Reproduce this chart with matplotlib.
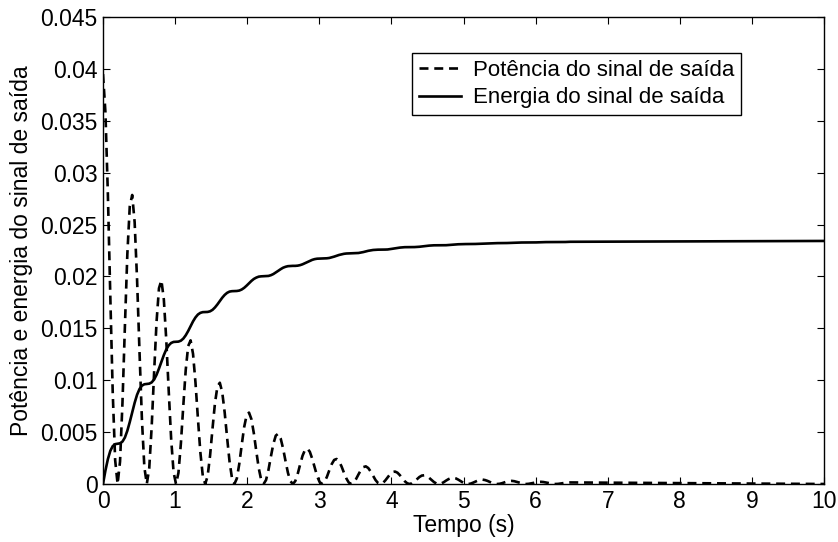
import numpy as np
import matplotlib
matplotlib.use("Agg")
import matplotlib.pyplot as plt

plt.rcParams['font.family'] = ['Liberation Sans', 'DejaVu Sans']

# sampling step of the read-off curves (s); last point is at t = 10 s
t_step = 0.03375
t_end = 10.0

# Power of the output signal (12 samples per oscillation)
potencia = [
    0.03950, 0.03580, 0.02795, 0.01810, 0.00879, 0.00229, 0.0, 0.00216, 0.00782, 0.01520, 0.02214, 0.02675,
    0.02785, 0.02524, 0.01970, 0.01276, 0.00620, 0.00161, 0.0, 0.00152, 0.00551, 0.01072, 0.01561, 0.01886,
    0.01963, 0.01779, 0.01389, 0.00900, 0.00437, 0.00114, 0.0, 0.00107, 0.00389, 0.00755, 0.01100, 0.01329,
    0.01384, 0.01254, 0.00979, 0.00634, 0.00308, 0.00080, 0.0, 0.00076, 0.00274, 0.00533, 0.00776, 0.00937,
    0.00976, 0.00884, 0.00690, 0.00447, 0.00217, 0.00057, 0.0, 0.00053, 0.00193, 0.00375, 0.00547, 0.00661,
    0.00688, 0.00624, 0.00487, 0.00315, 0.00153, 0.00040, 0.0, 0.00038, 0.00136, 0.00265, 0.00386, 0.00466,
    0.00485, 0.00440, 0.00343, 0.00222, 0.00108, 0.00028, 0.0, 0.00027, 0.00096, 0.00187, 0.00272, 0.00328,
    0.00342, 0.00310, 0.00242, 0.00157, 0.00076, 0.00020, 0.0, 0.00019, 0.00068, 0.00132, 0.00192, 0.00232,
    0.00241, 0.00218, 0.00171, 0.00110, 0.00054, 0.00014, 0.0, 0.00013, 0.00048, 0.00093, 0.00135, 0.00163,
    0.00170, 0.00154, 0.00120, 0.00078, 0.00038, 0.00010, 0.0, 0.00009, 0.00034, 0.00065, 0.00095, 0.00115,
    0.00120, 0.00109, 0.00085, 0.00055, 0.00027, 0.00007, 0.0, 0.00007, 0.00024, 0.00046, 0.00067, 0.00081,
    0.00084, 0.00077, 0.00060, 0.00039, 0.00019, 0.00005, 0.0, 0.00005, 0.00017, 0.00033, 0.00047, 0.00057,
    0.00060, 0.00054, 0.00042, 0.00027, 0.00013, 0.00003, 0.0, 0.00003, 0.00012, 0.00023, 0.00033, 0.00040,
    0.00042, 0.00038, 0.00030, 0.00019, 0.00009, 0.00002, 0.0, 0.00002, 0.00008, 0.00016, 0.00024, 0.00028,
    0.00030, 0.00027, 0.00021, 0.00014, 0.00007, 0.00002, 0.0, 0.00002, 0.00006, 0.00011, 0.00017, 0.00020,
    0.00021, 0.00019, 0.00015, 0.00010, 0.00005, 0.00001, 0.0, 0.00001, 0.00004, 0.00008, 0.00012, 0.00014,
    0.00015, 0.0,
]

# Energy of the output signal (same sampling)
energia = [
    0.0, 0.00130, 0.00239, 0.00319, 0.00365, 0.00384, 0.00388, 0.00392, 0.00409, 0.00448, 0.00513, 0.00597,
    0.00691, 0.00782, 0.00860, 0.00915, 0.00948, 0.00961, 0.00964, 0.00967, 0.00979, 0.01007, 0.01052, 0.01112,
    0.01178, 0.01242, 0.01297, 0.01336, 0.01359, 0.01369, 0.01371, 0.01372, 0.01381, 0.01401, 0.01433, 0.01474,
    0.01521, 0.01567, 0.01605, 0.01633, 0.01649, 0.01656, 0.01657, 0.01658, 0.01664, 0.01678, 0.01701, 0.01730,
    0.01763, 0.01795, 0.01822, 0.01842, 0.01854, 0.01858, 0.01859, 0.01860, 0.01864, 0.01874, 0.01890, 0.01911,
    0.01934, 0.01957, 0.01976, 0.01989, 0.01998, 0.02001, 0.02002, 0.02002, 0.02005, 0.02012, 0.02023, 0.02038,
    0.02054, 0.02070, 0.02084, 0.02093, 0.02099, 0.02101, 0.02102, 0.02102, 0.02104, 0.02109, 0.02117, 0.02128,
    0.02139, 0.02150, 0.02160, 0.02167, 0.02171, 0.02172, 0.02173, 0.02173, 0.02175, 0.02178, 0.02184, 0.02191,
    0.02199, 0.02207, 0.02213, 0.02218, 0.02221, 0.02222, 0.02223, 0.02223, 0.02224, 0.02226, 0.02230, 0.02235,
    0.02241, 0.02247, 0.02251, 0.02255, 0.02257, 0.02258, 0.02258, 0.02258, 0.02259, 0.02260, 0.02263, 0.02267,
    0.02271, 0.02275, 0.02278, 0.02280, 0.02282, 0.02282, 0.02283, 0.02283, 0.02283, 0.02284, 0.02286, 0.02289,
    0.02292, 0.02294, 0.02297, 0.02299, 0.02300, 0.02300, 0.02300, 0.02300, 0.02300, 0.02301, 0.02303, 0.02305,
    0.02307, 0.02309, 0.02310, 0.02311, 0.02312, 0.02312, 0.02312, 0.02312, 0.02313, 0.02313, 0.02314, 0.02316,
    0.02317, 0.02318, 0.02319, 0.02320, 0.02321, 0.02321, 0.02321, 0.02321, 0.02321, 0.02322, 0.02322, 0.02323,
    0.02324, 0.02325, 0.02326, 0.02327, 0.02327, 0.02327, 0.02327, 0.02327, 0.02327, 0.02328, 0.02328, 0.02329,
    0.02329, 0.02330, 0.02331, 0.02331, 0.02331, 0.02331, 0.02331, 0.02331, 0.02331, 0.02332, 0.02332, 0.02333,
    0.02334, 0.02342,
]

x_ticks = [0, 1, 2, 3, 4, 5, 6, 7, 8, 9, 10]
y_ticks = [0, 0.005, 0.01, 0.015, 0.02, 0.025, 0.03, 0.035, 0.04, 0.045]
y_ticklabels = ['0', '0.005', '0.01', '0.015', '0.02', '0.025', '0.03', '0.035', '0.04', '0.045']

legend_labels = ['Potência do sinal de saída', 'Energia do sinal de saída']
xlabel = 'Tempo (s)'
ylabel = 'Potência e energia do sinal de saída'

n = len(potencia) - 1
tempo = np.append(np.arange(n) * t_step, t_end)

fig = plt.figure(figsize=(8.38, 5.42), dpi=100)
ax = fig.add_axes([103 / 838, 1 - 484 / 542, 721 / 838, 467 / 542])

ax.plot(tempo, potencia, color='black', lw=1.9, linestyle=(0, (3.4, 2.2)),
        label=legend_labels[0])
ax.plot(tempo, energia, color='black', lw=1.9, linestyle='-',
        label=legend_labels[1])

ax.set_xlim(0, 10)
ax.set_ylim(0, 0.045)
ax.set_xticks(x_ticks)
ax.set_yticks(y_ticks)
ax.set_yticklabels(y_ticklabels)

fs = 16.5
ax.tick_params(direction='in', top=True, right=True, length=5, width=0.8,
               labelsize=fs, pad=4)
for s in ax.spines.values():
    s.set_linewidth(1.0)
    s.set_color('black')

ax.set_xlabel(xlabel, fontsize=fs, labelpad=1)
ax.set_ylabel(ylabel, fontsize=fs, labelpad=5)

leg = ax.legend(loc='upper left', bbox_to_anchor=(0.4286, 0.923), borderaxespad=0,
                fontsize=16, frameon=True, fancybox=False, edgecolor='black',
                handlelength=1.9, handletextpad=0.55, borderpad=0.3, labelspacing=0.3,
                framealpha=1)
leg.get_frame().set_linewidth(1.0)

fig.savefig('out.png', dpi=100)
